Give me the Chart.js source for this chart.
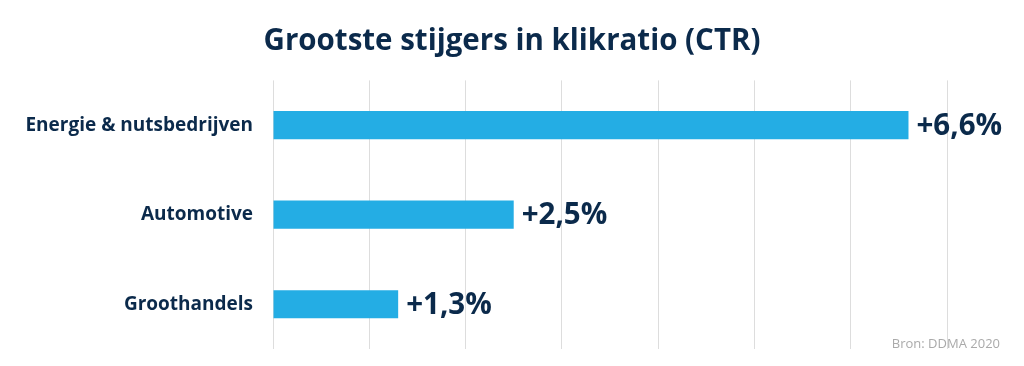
<!DOCTYPE html>
<html>
<head>
<meta charset="utf-8">
<script src="https://cdn.jsdelivr.net/npm/chart.js@4"></script>
<style>
    html, body { margin: 0; padding: 0; background: #fff; }
    #wrap { width: 1024px; height: 366px; }
</style>
</head>
<body>
<div id="wrap"><canvas id="grafiek"></canvas></div>
<script>
const categorieen = ["Energie & nutsbedrijven", "Automotive", "Groothandels"];
const waarden = [6.6, 2.5, 1.3];
const labels = ["+6,6%", "+2,5%", "+1,3%"];

const donker = "#0b2a4b";

// waarde-labels rechts van de balken
const waardeLabels = {
    id: "waardeLabels",
    afterDatasetsDraw(chart) {
        const ctx = chart.ctx;
        const meta = chart.getDatasetMeta(0);
        ctx.save();
        ctx.font = "bold 29.5px 'Open Sans'";
        ctx.fillStyle = donker;
        ctx.textAlign = "left";
        ctx.textBaseline = "middle";
        meta.data.forEach((balk, i) => {
            ctx.fillText(labels[i], balk.x + 8, balk.y + 1);
        });
        ctx.restore();
    }
};

// bronvermelding rechtsonder
const bron = {
    id: "bron",
    afterDraw(chart) {
        const ctx = chart.ctx;
        ctx.save();
        ctx.font = "13px 'Open Sans'";
        ctx.fillStyle = "#aaaaaa";
        ctx.textAlign = "right";
        ctx.textBaseline = "alphabetic";
        ctx.fillText("Bron: DDMA 2020", 1000, 348);
        ctx.restore();
    }
};

new Chart(document.getElementById("grafiek"), {
    type: "bar",
    data: {
        labels: categorieen,
        datasets: [{
            data: waarden,
            backgroundColor: "#24ade4",
            barPercentage: 0.315,
            categoryPercentage: 1
        }]
    },
    options: {
        indexAxis: "y",
        responsive: true,
        maintainAspectRatio: false,
        animation: false,
        layout: {
            padding: { left: 0, right: 0, top: 0, bottom: 17 }
        },
        plugins: {
            legend: { display: false },
            tooltip: { enabled: false },
            title: {
                display: true,
                text: "Grootste stijgers in klikratio (CTR)",
                color: donker,
                font: { family: "Open Sans", size: 29.5, weight: "bold", lineHeight: 1.2 },
                padding: { top: 24, bottom: 21 }
            }
        },
        scales: {
            x: {
                min: 0,
                max: 7,
                ticks: { display: false, stepSize: 1 },
                grid: { color: "#dddddd", lineWidth: 1, drawTicks: false },
                border: { display: false },
                afterFit(schaal) {
                    schaal.height = 0;
                }
            },
            y: {
                ticks: {
                    color: donker,
                    font: { family: "Open Sans", size: 19, weight: "bold" },
                    padding: 0
                },
                // onzichtbare tickstreepjes zorgen voor de afstand tot de labels
                grid: {
                    display: true,
                    drawOnChartArea: false,
                    drawTicks: true,
                    tickLength: 20,
                    tickColor: "rgba(0,0,0,0)"
                },
                border: { display: false },
                afterFit(schaal) {
                    schaal.width = 273;
                }
            },
            // lege as rechts als ruimte voor de labels
            rechts: {
                type: "category",
                position: "right",
                labels: categorieen,
                ticks: { display: false },
                grid: { display: false, drawTicks: false },
                border: { display: false },
                afterFit(schaal) {
                    schaal.width = 77;
                }
            }
        }
    },
    plugins: [waardeLabels, bron]
});
</script>
</body>
</html>
